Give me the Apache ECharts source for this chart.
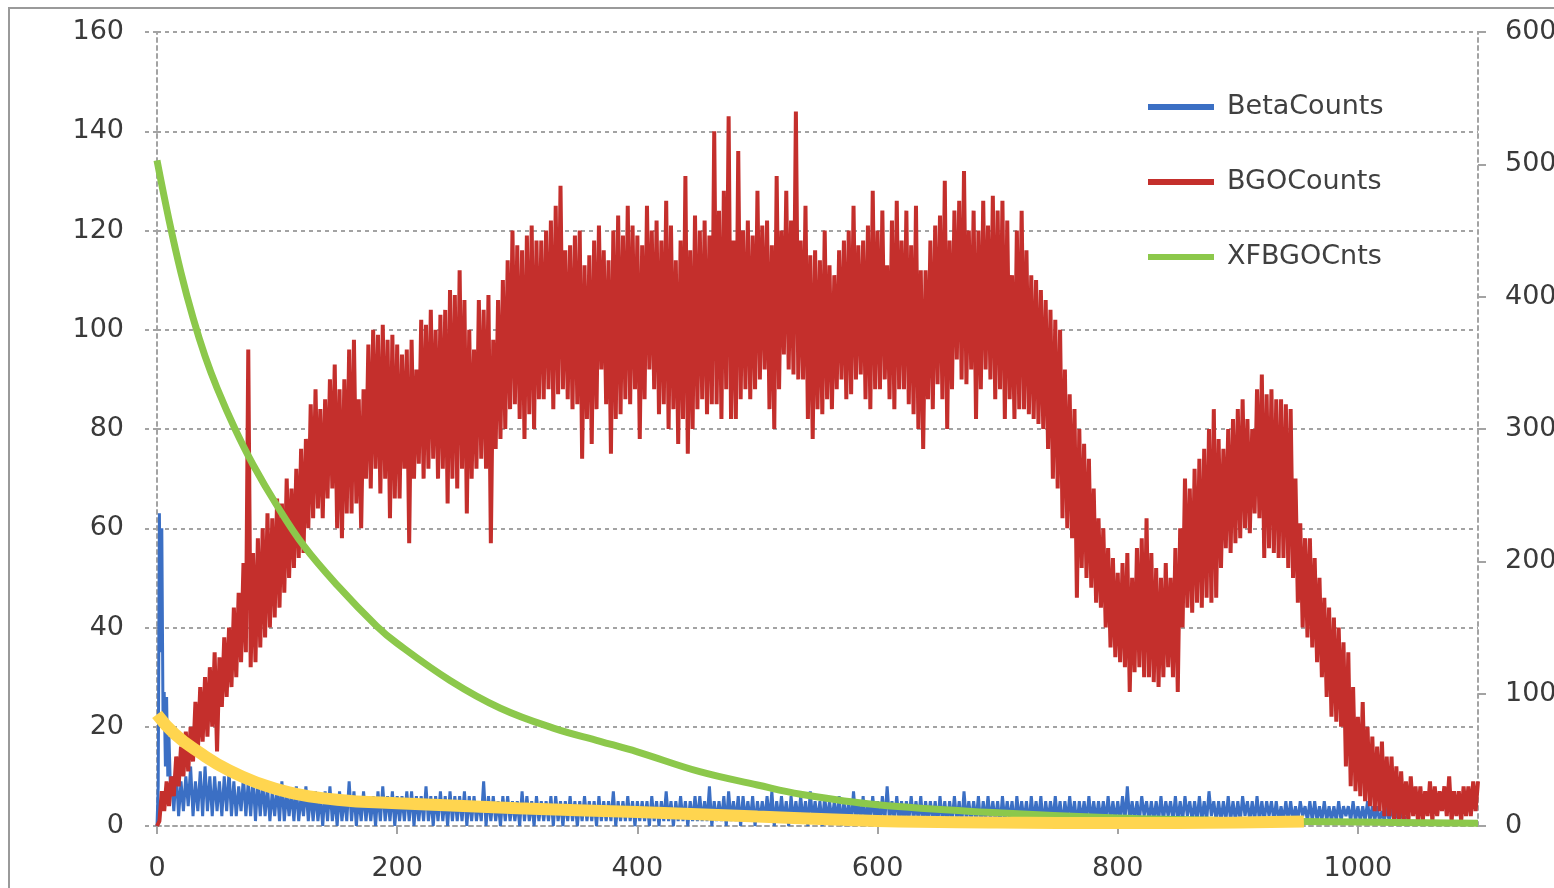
<!DOCTYPE html>
<html>
<head>
<meta charset="utf-8">
<script src="https://cdn.jsdelivr.net/npm/echarts@6/dist/echarts.min.js"></script>
<style>
html,body{margin:0;padding:0;background:#fff;}
#chart{width:1554px;height:888px;}
</style>
</head>
<body>
<div id="chart"></div>
<script>
// ---- data ----
const xTicks = [0, 200, 400, 600, 800, 1000];
const leftTicks = [0, 20, 40, 60, 80, 100, 120, 140, 160];
const rightTicks = [0, 100, 200, 300, 400, 500, 600];

// BGOCounts: noisy channel data read as alternating upper / lower readings.
// bgoTop at channels 0,4,8,...,1100 ; bgoBottom at channels 2,6,10,...,1098
const bgoTop = [
  0, 7, 9, 10, 14, 16, 19, 20, 25, 28,
  30, 32, 35, 34, 38, 40, 44, 47, 53, 96,
  55, 58, 60, 63, 62, 66, 65, 70, 68, 72,
  76, 78, 85, 88, 84, 86, 90, 93, 88, 90,
  96, 98, 86, 88, 97, 100, 99, 101, 98, 99,
  97, 95, 96, 98, 92, 102, 101, 104, 100, 103,
  104, 108, 107, 112, 106, 100, 96, 106, 104, 107,
  98, 106, 110, 114, 120, 117, 116, 119, 121, 118,
  118, 120, 122, 125, 129, 116, 117, 119, 120, 113,
  115, 118, 121, 116, 114, 120, 123, 119, 125, 121,
  119, 117, 125, 120, 122, 118, 126, 121, 114, 118,
  131, 116, 123, 120, 122, 119, 140, 124, 128, 143,
  118, 136, 120, 122, 119, 128, 121, 122, 117, 131,
  120, 128, 122, 144, 118, 125, 115, 116, 114, 120,
  113, 111, 116, 118, 120, 125, 117, 118, 121, 128,
  120, 124, 113, 122, 126, 118, 124, 117, 125, 112,
  112, 118, 121, 123, 130, 118, 124, 126, 132, 120,
  124, 120, 126, 121, 127, 124, 126, 122, 111, 120,
  124, 116, 111, 110, 108, 106, 104, 102, 100, 92,
  87, 84, 80, 77, 74, 68, 62, 60, 56, 54,
  51, 53, 55, 50, 56, 58, 62, 55, 52, 50,
  53, 50, 56, 60, 70, 68, 72, 74, 76, 80,
  84, 78, 76, 80, 82, 84, 86, 82, 80, 88,
  91, 87, 88, 86, 86, 85, 84, 70, 61, 58,
  58, 54, 50, 46, 44, 42, 40, 37, 35, 28,
  22, 25, 20, 18, 16, 17, 14, 14, 12, 11,
  9, 10, 8, 8, 7, 9, 8, 7, 8, 10,
  7, 7, 8, 8, 9, 9
];
const bgoBottom = [
  1, 3, 4, 6, 8, 10, 11, 13, 15, 17,
  18, 20, 15, 24, 26, 28, 30, 33, 35, 32,
  33, 36, 38, 40, 42, 44, 47, 50, 52, 54,
  55, 60, 62, 64, 62, 66, 68, 60, 58, 63,
  63, 65, 60, 70, 68, 72, 67, 70, 62, 66,
  66, 72, 57, 70, 73, 70, 72, 74, 70, 72,
  65, 70, 68, 72, 63, 70, 72, 74, 72, 57,
  76, 78, 80, 84, 85, 82, 78, 83, 80, 86,
  86, 88, 84, 87, 88, 86, 84, 85, 74, 82,
  77, 84, 92, 85, 75, 82, 83, 86, 85, 88,
  78, 86, 92, 88, 83, 85, 80, 84, 77, 82,
  75, 80, 84, 86, 83, 85, 85, 82, 88, 82,
  82, 86, 88, 86, 88, 90, 92, 84, 80, 88,
  95, 92, 91, 90, 90, 82, 78, 84, 83, 86,
  84, 88, 90, 86, 87, 90, 91, 86, 84, 88,
  88, 90, 86, 84, 88, 88, 85, 83, 80, 76,
  86, 84, 89, 86, 80, 88, 94, 90, 89, 92,
  82, 88, 92, 90, 86, 88, 82, 86, 82, 84,
  84, 83, 82, 81, 80, 76, 70, 68, 62, 60,
  58, 46, 52, 50, 48, 45, 44, 40, 36, 34,
  33, 32, 27, 31, 32, 30, 30, 29, 28, 30,
  32, 30, 27, 40, 44, 43, 45, 44, 46, 45,
  46, 52, 56, 55, 57, 58, 60, 59, 63, 62,
  54, 56, 55, 54, 54, 52, 50, 45, 40, 38,
  36, 33, 30, 26, 22, 21, 20, 12, 8, 7,
  6, 5, 4, 3, 3, 2, 2, 1, 1, 1,
  1, 2, 1, 1, 2, 1, 2, 3, 2, 1,
  2, 1, 2, 2, 3
];

// BetaCounts: channels 0..11 one by one, then upper readings at 12,16,...,1040
// and lower readings at 14,18,...,1038
const betaHead = [0, 8, 63, 35, 60, 22, 27, 12, 26, 10, 18, 9];
const betaTop = [
  10, 11, 9, 10, 12, 9, 11, 12, 10, 10,
  9, 10, 11, 9, 8, 10, 9, 10, 9, 9,
  8, 7, 8, 9, 7, 7, 8, 6, 8, 7,
  7, 6, 7, 8, 6, 7, 6, 9, 7, 6,
  7, 6, 6, 7, 8, 6, 7, 6, 6, 7,
  7, 6, 6, 8, 6, 6, 7, 6, 7, 6,
  6, 7, 6, 6, 5, 9, 6, 6, 5, 6,
  6, 5, 5, 7, 6, 5, 6, 5, 5, 6,
  6, 5, 5, 6, 5, 5, 6, 5, 5, 6,
  5, 5, 7, 5, 5, 6, 5, 5, 5, 5,
  6, 5, 5, 7, 5, 5, 6, 5, 5, 6,
  6, 5, 8, 5, 5, 6, 7, 5, 6, 6,
  5, 6, 5, 5, 6, 7, 5, 6, 5, 6,
  5, 6, 5, 7, 5, 5, 6, 5, 5, 6,
  5, 5, 7, 5, 6, 5, 6, 5, 6, 8,
  5, 6, 5, 5, 6, 5, 6, 5, 5, 5,
  6, 5, 5, 6, 5, 7, 5, 5, 6, 5,
  6, 5, 5, 6, 5, 5, 6, 5, 5, 6,
  5, 6, 5, 5, 6, 5, 5, 6, 5, 5,
  5, 6, 5, 5, 5, 6, 5, 5, 6, 8,
  5, 5, 6, 5, 5, 5, 6, 5, 5, 6,
  5, 6, 5, 5, 6, 5, 7, 5, 5, 5,
  6, 5, 5, 6, 5, 5, 6, 5, 5, 5,
  5, 4, 5, 5, 4, 5, 4, 5, 5, 4,
  5, 4, 4, 5, 4, 4, 5, 4, 4, 5,
  4, 4, 3, 4, 4, 3, 3, 2
];
const betaBottom = [
  3, 2, 3, 4, 2, 3, 2, 3, 2, 3,
  2, 3, 2, 2, 3, 2, 2, 1, 2, 2,
  1, 2, 1, 1, 2, 1, 1, 2, 1, 1,
  1, 0, 1, 1, 0, 1, 1, 1, 0, 1,
  1, 1, 0, 1, 1, 1, 0, 1, 1, 1,
  0, 1, 1, 1, 0, 1, 1, 0, 1, 1,
  1, 0, 1, 1, 1, 0, 1, 1, 0, 1,
  1, 1, 0, 1, 1, 0, 1, 1, 1, 0,
  1, 0, 1, 1, 0, 1, 1, 1, 0, 1,
  1, 1, 0, 1, 1, 1, 0, 1, 1, 0,
  1, 0, 1, 1, 0, 1, 1, 0, 1, 1,
  1, 1, 0, 1, 1, 0, 1, 1, 0, 1,
  1, 0, 1, 1, 1, 0, 1, 1, 0, 1,
  1, 1, 0, 1, 1, 0, 1, 1, 1, 0,
  1, 0, 1, 1, 0, 1, 1, 0, 1, 1,
  1, 1, 0, 1, 1, 1, 0, 1, 1, 0,
  1, 0, 1, 1, 0, 1, 1, 1, 0, 1,
  1, 1, 0, 1, 1, 0, 1, 1, 0, 1,
  1, 0, 1, 1, 1, 0, 1, 1, 0, 1,
  1, 1, 1, 1, 1, 1, 1, 1, 1, 1,
  1, 1, 2, 1, 1, 1, 1, 2, 1, 1,
  1, 2, 1, 1, 1, 1, 2, 1, 1, 1,
  1, 1, 1, 2, 1, 1, 1, 1, 2, 1,
  1, 1, 1, 1, 1, 2, 1, 1, 1, 1,
  1, 1, 1, 1, 2, 1, 1, 1, 1, 1,
  1, 1, 1, 1, 1, 1, 1
];

// XFBGOCnts (right axis)
const xfChannels = [0, 10, 20, 30, 40, 50, 65, 80, 100, 122, 150, 183, 200, 244, 286, 330, 369, 400, 452, 500, 536, 600, 700, 800, 900, 1000, 1100];
const xfCounts   = [503, 458, 418, 384, 355, 331, 300, 273, 242, 212, 182, 151, 138, 110, 89, 74, 64, 56, 41, 31, 24, 16, 10, 6, 4, 3, 2];

// trend curve (left axis, not in legend)
const trendChannels = [0, 15, 36, 60, 85, 110, 150, 200, 250, 300, 400, 500, 600, 700, 800, 900, 955];
const trendValues   = [22.5, 18.5, 14.7, 11.2, 8.6, 6.8, 5.3, 4.6, 4.1, 3.6, 2.8, 1.9, 1.0, 0.7, 0.6, 0.7, 0.9];

// ---- build ----
function interleave(top, bottom, start, step) {
  const out = [];
  for (let i = 0; i < top.length; i++) {
    out.push([start + i * step, top[i]]);
    if (i < bottom.length) out.push([start + i * step + step / 2, bottom[i]]);
  }
  return out;
}
const bgoData = interleave(bgoTop, bgoBottom, 0, 4);
const betaData = betaHead.map((v, i) => [i, v]).concat(interleave(betaTop, betaBottom, 12, 4));
const xfData = xfChannels.map((c, i) => [c, xfCounts[i]]);
const trendData = trendChannels.map((c, i) => [c, trendValues[i]]);

const FONT = 'DejaVu Sans';
const labelStyle = { color: '#3a3a3a', fontFamily: FONT, fontSize: 27 };
const dotted = { color: '#a3a3a3', width: 2, type: [4, 4] };

const chart = echarts.init(document.getElementById('chart'), null, { renderer: 'canvas' });
chart.setOption({
  animation: false,
  backgroundColor: '#ffffff',
  grid: { left: 157, top: 32, right: 76, bottom: 62, containLabel: false, outerBoundsMode: 'none' },
  graphic: [{
    type: 'rect', silent: true, z: -10,
    shape: { x: 9, y: 8, width: 1600, height: 920 },
    style: { fill: 'none', stroke: '#9a9a9a', lineWidth: 2 }
  }],
  legend: {
    data: ['BetaCounts', 'BGOCounts', 'XFBGOCnts'],
    orient: 'vertical',
    left: 1148, top: 93,
    padding: 0,
    itemGap: 47,
    itemWidth: 66, itemHeight: 6,
    icon: 'rect',
    textStyle: { color: '#404040', fontFamily: FONT, fontSize: 27, lineHeight: 28, padding: [0, 0, 0, 8] }
  },
  xAxis: {
    type: 'value', min: 0, max: 1100, interval: 200,
    axisLine: { show: true, lineStyle: dotted },
    axisTick: { show: true, length: 8, lineStyle: { color: '#a3a3a3', width: 2 } },
    axisLabel: Object.assign({ margin: 29, showMaxLabel: false,
      formatter: v => xTicks.indexOf(v) >= 0 ? String(v) : '' }, labelStyle),
    splitLine: { show: false }
  },
  yAxis: [{
    type: 'value', min: 0, max: 160, interval: 20, position: 'left',
    axisLine: { show: true, lineStyle: dotted },
    axisTick: { show: true, length: 14, lineStyle: dotted },
    axisLabel: Object.assign({ margin: 33,
      formatter: v => leftTicks.indexOf(v) >= 0 ? String(v) : '' }, labelStyle),
    splitLine: { show: true, lineStyle: dotted }
  }, {
    type: 'value', min: 0, max: 600, interval: 100, position: 'right',
    axisLine: { show: true, lineStyle: dotted },
    axisTick: { show: true, length: 8, lineStyle: { color: '#a3a3a3', width: 2 } },
    axisLabel: Object.assign({ margin: 27,
      formatter: v => rightTicks.indexOf(v) >= 0 ? String(v) : '' }, labelStyle),
    splitLine: { show: false }
  }],
  series: [{
    name: 'BetaCounts', type: 'line', yAxisIndex: 0, data: betaData,
    showSymbol: false, symbol: 'none', z: 1,
    lineStyle: { color: '#3b6fc4', width: 3 }, itemStyle: { color: '#3b6fc4' }
  }, {
    name: 'BGOCounts', type: 'line', yAxisIndex: 0, data: bgoData,
    showSymbol: false, symbol: 'none', z: 2,
    lineStyle: { color: '#c42f2c', width: 4 }, itemStyle: { color: '#c42f2c' }
  }, {
    name: 'XFBGOCnts', type: 'line', yAxisIndex: 1, data: xfData, smooth: 0.4,
    showSymbol: false, symbol: 'none', z: 3,
    lineStyle: { color: '#8cc84b', width: 7 }, itemStyle: { color: '#8cc84b' }
  }, {
    name: 'trend', type: 'line', yAxisIndex: 0, data: trendData, smooth: true,
    showSymbol: false, symbol: 'none', z: 4,
    lineStyle: { color: '#ffd54f', width: 12, cap: 'butt' }, itemStyle: { color: '#ffd54f' }
  }]
});
</script>
</body>
</html>
